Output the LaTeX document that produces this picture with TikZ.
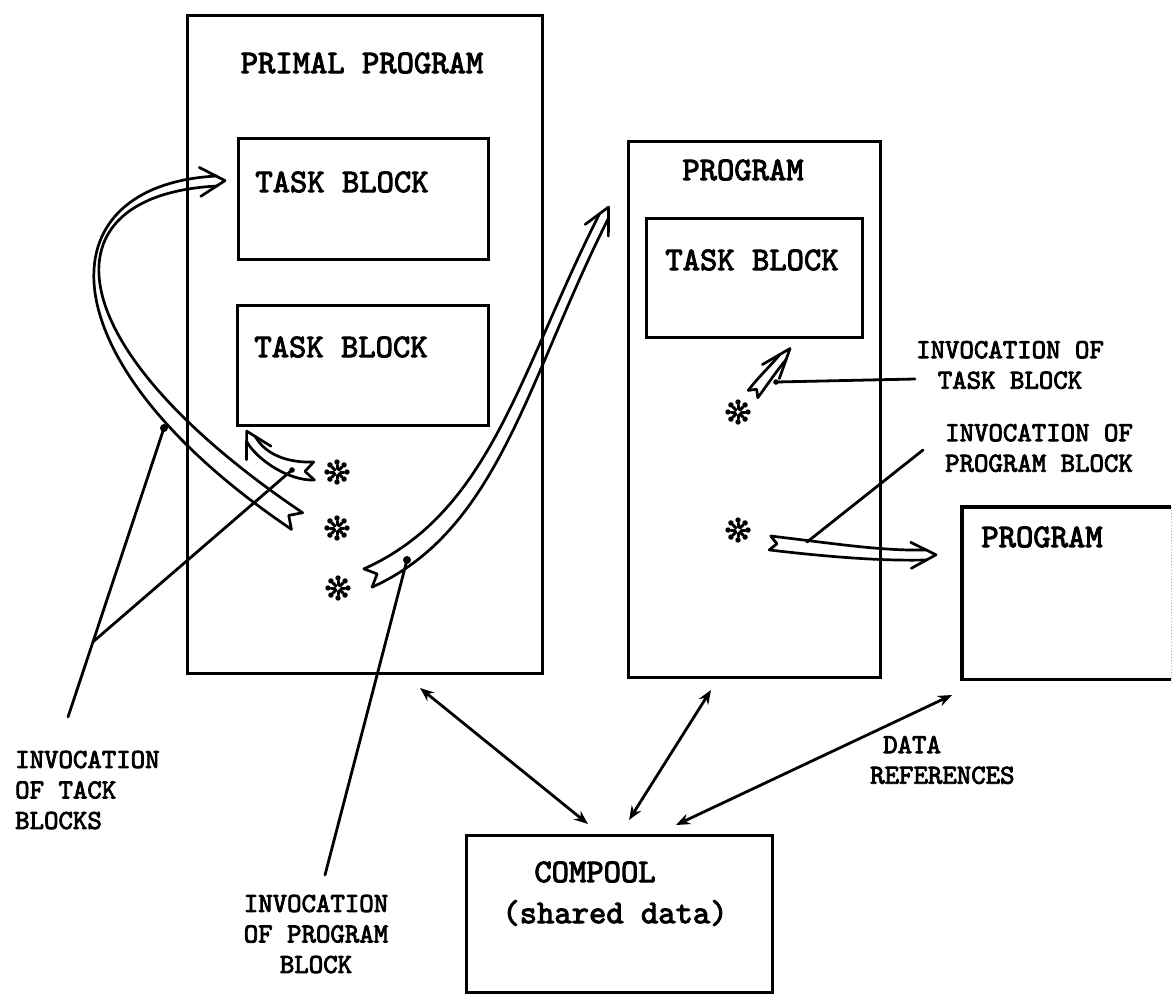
\documentclass[tikz,border=0pt]{standalone}
\usepackage{fontspec}
\newfontfamily\typewriter{lmmono10-regular.otf}[FakeBold=3]
\usetikzlibrary{calc,arrows.meta}

% Hollow ribbon arrow with a notched tail and an open head.
% #1 tail, #2 first control, #3 second control, #4 head end (coordinate names)
% #5 half width at tail, #6 half width at head
% #7 tip ahead of head end, #8 wing set-back, #9 wing half spread
\newcommand\ribbonarrow[9]{%
  \coordinate (rTl) at ($(#1)!#5pt!90:(#2)$);
  \coordinate (rTr) at ($(#1)!#5pt!-90:(#2)$);
  \coordinate (rHl) at ($(#4)!#6pt!-90:(#3)$);
  \coordinate (rHr) at ($(#4)!#6pt!90:(#3)$);
  \coordinate (rN) at ($(#1)!#5pt!(#2)$);
  \coordinate (rTip) at ($(#4)!-#7pt!(#3)$);
  \coordinate (rQ) at ($(#4)!#8pt!(#3)$);
  \coordinate (rWl) at ($(rQ)!#9pt!90:(#4)$);
  \coordinate (rWr) at ($(rQ)!#9pt!-90:(#4)$);
  \draw[ribbonline] (rTl) .. controls ($(#2)+(rTl)-(#1)$) and ($(#3)+(rHl)-(#4)$) .. (rHl);
  \draw[ribbonline] (rTr) .. controls ($(#2)+(rTr)-(#1)$) and ($(#3)+(rHr)-(#4)$) .. (rHr);
  \draw[ribbonline] (rTl) -- (rN) -- (rTr);
  \draw[ribbonline] (rWl) -- (rTip) -- (rWr);
}

\begin{document}
\begin{tikzpicture}[x=1pt,y=-1pt,
  box/.style={draw,line width=3.2pt,inner sep=0pt,anchor=north west},
  title/.style={font=\typewriter\fontsize{33}{38}\selectfont,inner sep=0pt},
  note/.style={font=\typewriter\fontsize{27.5}{30.5}\selectfont,inner sep=0pt},
  ribbonline/.style={line width=2.7pt,line join=round,line cap=round},
  pointer/.style={line width=2.8pt,line cap=round},
  dataref/.style={line width=2.8pt,{Stealth[length=14pt,width=11pt]}-{Stealth[length=14pt,width=11pt]}},
  burst/.pic={
    \foreach \a in {0,45,...,315}{
      \draw[line width=3pt,line cap=round] (\a:3) -- (\a:7);
      \fill (\a:10) circle (2.7);
    }
  }
]
\useasboundingbox (0,0) rectangle (1172,993);

% ---- boxes ----
\node[box,minimum width=355pt,minimum height=658pt] (primal) at (186,14) {};
\node[box,minimum width=250pt,minimum height=121pt] (tb1) at (237,137) {};
\node[box,minimum width=251pt,minimum height=120pt] (tb2) at (236,304) {};
\node[box,minimum width=252pt,minimum height=536pt] (prog) at (627,140) {};
\node[box,minimum width=216pt,minimum height=119pt] (tb3) at (645,217) {};
\node[box,draw=none,minimum width=206pt,minimum height=169pt] (rprog) at (962,507) {};
\draw[line width=3.2pt] (rprog.north east) -- (rprog.north west) -- (rprog.south west) -- (rprog.south east);
\draw[gray!60,line width=1pt,dotted] (rprog.south east) -- (rprog.north east);
\node[box,minimum width=306pt,minimum height=157pt] (compool) at (465,834) {};

% ---- box texts ----
\node[title] (primalT) at (362,63) {PRIMAL PROGRAM};
\node[title] (tb1T) at (342,182) {TASK BLOCK};
\node[title] (tb2T) at (341,347) {TASK BLOCK};
\node[title] (progT) at (743,170) {PROGRAM};
\node[title] (tb3T) at (752,260) {TASK BLOCK};
\node[title] (rprogT) at (1042,537) {PROGRAM};
\node[title] (compoolT) at (595,872) {COMPOOL};
\node[title] (sharedT) at (615,913) {(shared data)};

% ---- annotation labels ----
\node[note,align=center] (lblTask) at (1010,365) {INVOCATION OF\\TASK BLOCK};
\node[note,align=center] (lblProg) at (1039,448) {INVOCATION OF\\PROGRAM BLOCK};
\node[note,align=left,anchor=west] (lblData) at (870,760) {\hspace{13pt}DATA\\REFERENCES};
\node[note,align=left,anchor=west] (lblTasks) at (15,790) {INVOCATION\\OF TACK\\BLOCKS};
\node[note,align=center] (lblPB) at (316,934) {INVOCATION\\OF PROGRAM\\BLOCK};

% ---- invocation points ----
\pic (s1) at (337,472) {burst};
\pic (s2) at (337,528) {burst};
\pic (s3) at (338,588) {burst};
\pic (s4) at (738,412) {burst};
\pic (s5) at (738,530) {burst};

% ---- hollow invocation arrows ----
\coordinate (a1t) at (297,521); \coordinate (a1c) at (48,353);
\coordinate (a1d) at (42,190);  \coordinate (a1h) at (217,181);
\ribbonarrow{a1t}{a1c}{a1d}{a1h}{10}{5}{8}{17}{14.5}

\coordinate (a2t) at (314,471); \coordinate (a2c) at (288,472);
\coordinate (a2d) at (261,457); \coordinate (a2h) at (251,439);
\ribbonarrow{a2t}{a2c}{a2d}{a2h}{9}{5}{9}{16}{14}

\coordinate (a3t) at (368,578); \coordinate (a3c) at (495,521);
\coordinate (a3d) at (523,376); \coordinate (a3h) at (604,216);
\ribbonarrow{a3t}{a3c}{a3d}{a3h}{10}{5}{10}{16}{13}

\coordinate (a4t) at (753,394); \coordinate (a4c) at (762,382);
\coordinate (a4d) at (773,369); \coordinate (a4h) at (783,357);
\ribbonarrow{a4t}{a4c}{a4d}{a4h}{6}{4}{11}{19}{11}

\coordinate (a5t) at (770,543); \coordinate (a5c) at (830,550);
\coordinate (a5d) at (880,556); \coordinate (a5h) at (926,555);
\ribbonarrow{a5t}{a5c}{a5d}{a5h}{7}{5}{10}{15}{13}

% ---- label pointers ----
\coordinate (p1a) at (68,717);  \coordinate (p1b) at (164,428);
\coordinate (p1j) at ($(p1a)!0.26!(p1b)$);
\coordinate (p1c) at (292,470);
\draw[pointer] (p1a) -- (p1b);
\draw[pointer] (p1j) -- (p1c);
\fill (p1b) circle (4);
\fill (p1c) circle (2.8);

\coordinate (p2a) at (325,875); \coordinate (p2b) at (407,560);
\draw[pointer] (p2a) -- (p2b);
\fill (p2b) circle (4);

\coordinate (p3a) at (915,379); \coordinate (p3b) at (776,382);
\draw[pointer] (p3a) -- (p3b);
\fill (p3b) circle (2.8);

\coordinate (p4a) at (923,450); \coordinate (p4b) at (807,542);
\draw[pointer] (p4a) -- (p4b);

% ---- data references ----
\coordinate (d1a) at (420,688); \coordinate (d1b) at (588,824);
\coordinate (d2a) at (711,690); \coordinate (d2b) at (629,820);
\coordinate (d3a) at (952,695); \coordinate (d3b) at (676,825);
\draw[dataref] (d1a) -- (d1b);
\draw[dataref] (d2a) -- (d2b);
\draw[dataref] (d3a) -- (d3b);
\end{tikzpicture}
\end{document}
